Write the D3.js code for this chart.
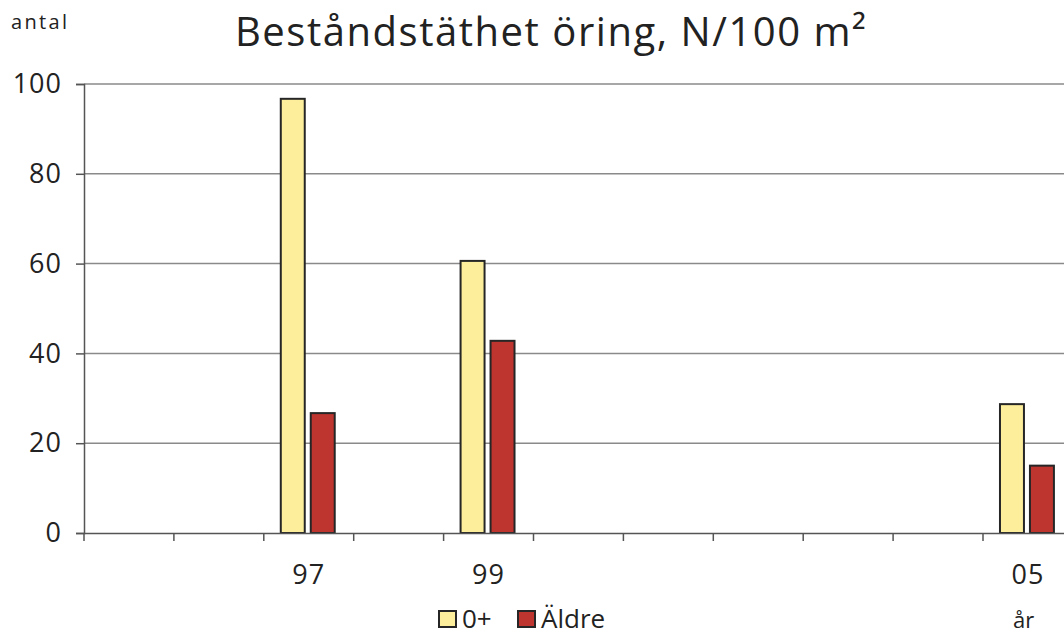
<!DOCTYPE html>
<html>
<head>
<meta charset="utf-8">
<script src="https://cdn.jsdelivr.net/npm/d3@7"></script>
<style>
  body { margin: 0; background: #fff; }
  svg text { font-family: "Open Sans", Lato, sans-serif; fill: #222; }
</style>
</head>
<body>
<div id="chart"></div>
<script>
// years on the x axis (only some are labelled)
const years = ["95", "96", "97", "98", "99", "00", "01", "02", "03", "04", "05"];
const yearLabels = ["", "", "97", "", "99", "", "", "", "", "", "05"];
const seriesNames = ["0+", "Äldre"];
const seriesColors = ["#FCEE9A", "#BE3530"];
const young = [null, null, 96.7, null, 60.6, null, null, null, null, null, 28.7];
const older = [null, null, 26.7, null, 42.8, null, null, null, null, null, 15.0];
const yTicks = [0, 20, 40, 60, 80, 100];

const width = 1064, height = 635;
const margin = { top: 84, left: 84, bottom: 102 };
const plotH = height - margin.top - margin.bottom;

const svg = d3.select("#chart").append("svg")
  .attr("width", width)
  .attr("height", height);

const x = d3.scaleBand()
  .domain(years)
  .range([margin.left, margin.left + 89.9 * years.length])
  .padding(0);

const x1 = d3.scaleBand()
  .domain(seriesNames)
  .range([0, x.bandwidth()])
  .paddingInner(0.2)
  .paddingOuter(0.6);

const y = d3.scaleLinear()
  .domain([0, 100])
  .range([margin.top + plotH, margin.top]);

// gridlines
svg.append("g")
  .selectAll("line")
  .data(yTicks.filter(d => d > 0))
  .join("line")
  .attr("x1", margin.left)
  .attr("x2", width)
  .attr("y1", d => y(d))
  .attr("y2", d => y(d))
  .attr("stroke", "#8a8a8a")
  .attr("stroke-width", 1.5);

// bars
const rows = years.map((yr, i) => ({ yr, vals: [young[i], older[i]] }));
const groups = svg.append("g")
  .selectAll("g")
  .data(rows)
  .join("g")
  .attr("transform", d => `translate(${x(d.yr)},0)`);

groups.selectAll("rect")
  .data(d => d.vals.map((v, j) => ({ name: seriesNames[j], v, j })).filter(e => e.v != null))
  .join("rect")
  .attr("x", d => x1(d.name) - 1)
  .attr("width", x1.bandwidth())
  .attr("y", d => y(d.v))
  .attr("height", d => y(0) - y(d.v))
  .attr("fill", d => seriesColors[d.j])
  .attr("stroke", "#262626")
  .attr("stroke-width", 2);

// y axis
const yAxis = svg.append("g")
  .attr("transform", `translate(${margin.left},0)`)
  .call(d3.axisLeft(y).tickValues(yTicks).tickSize(8).tickPadding(14));
yAxis.select(".domain").attr("stroke", "#555").attr("stroke-width", 1.5);
yAxis.selectAll(".tick line").attr("stroke", "#555").attr("stroke-width", 1.5);
yAxis.selectAll(".tick text")
  .style("font-size", "27px")
  .style("letter-spacing", "1px")
  .attr("fill", "#222");

// x axis
const xAxis = svg.append("g")
  .attr("transform", `translate(0,${y(0)})`)
  .call(d3.axisBottom(x).tickSize(0).tickFormat((d, i) => yearLabels[i]).tickPadding(32));
xAxis.select(".domain").attr("stroke", "#555").attr("stroke-width", 1.5);
xAxis.selectAll(".tick text")
  .style("font-size", "27px")
  .style("letter-spacing", "1px")
  .attr("fill", "#222");

// category boundary ticks
svg.append("g")
  .selectAll("line")
  .data(years.concat(["end"]))
  .join("line")
  .attr("x1", (d, i) => x.range()[0] + i * x.step())
  .attr("x2", (d, i) => x.range()[0] + i * x.step())
  .attr("y1", y(0))
  .attr("y2", y(0) + 8)
  .attr("stroke", "#555")
  .attr("stroke-width", 1.5);

// title and axis captions
svg.append("text")
  .attr("x", 235).attr("y", 46)
  .attr("textLength", 631)
  .attr("lengthAdjust", "spacing")
  .style("font-size", "40px")
  .text("Beståndstäthet öring, N/100 m²");

svg.append("text")
  .attr("x", 11).attr("y", 29)
  .attr("textLength", 56)
  .attr("lengthAdjust", "spacing")
  .style("font-size", "20px")
  .text("antal");

svg.append("text")
  .attr("x", 1013).attr("y", 628)
  .style("font-size", "22px")
  .text("år");

// legend
const legend = svg.append("g").attr("transform", "translate(439,619)");
const legX = [0, 79];
seriesNames.forEach((name, i) => {
  legend.append("rect")
    .attr("x", legX[i]).attr("y", -8)
    .attr("width", 17).attr("height", 16)
    .attr("fill", seriesColors[i])
    .attr("stroke", "#262626")
    .attr("stroke-width", 2);
  legend.append("text")
    .attr("x", legX[i] + 23).attr("y", 9)
    .style("font-size", "26px")
    .text(name);
});
</script>
</body>
</html>
